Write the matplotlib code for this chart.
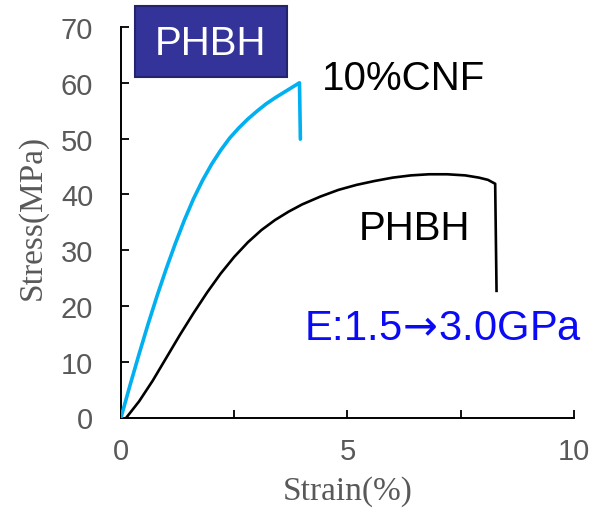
import matplotlib
matplotlib.use("Agg")
import matplotlib.pyplot as plt
from matplotlib.patches import Rectangle

plt.rcParams["mathtext.fontset"] = "dejavusans"

# Data
cnf_strain = [0.00, 0.20, 0.40, 0.60, 0.80, 1.00, 1.20, 1.40, 1.60, 1.80, 2.00, 2.20, 2.40,
              2.60, 2.80, 3.00, 3.20, 3.40, 3.60, 3.80, 3.94, 3.96]
cnf_stress = [0.0, 5.8, 11.4, 16.8, 21.9, 26.7, 31.2, 35.4, 39.2, 42.5, 45.4, 47.9, 50.1,
              51.9, 53.5, 54.9, 56.2, 57.3, 58.3, 59.3, 60.0, 49.9]

phbh_strain = [0.12, 0.40, 0.70, 1.00, 1.30, 1.60, 1.90, 2.20, 2.50, 2.80, 3.10, 3.40, 3.70,
               4.00, 4.40, 4.80, 5.20, 5.60, 6.00, 6.40, 6.80, 7.20, 7.60, 7.90, 8.10, 8.26, 8.29]
phbh_stress = [0.0, 2.9, 6.6, 10.7, 14.8, 18.7, 22.4, 25.8, 28.8, 31.4, 33.6, 35.4, 36.9,
               38.2, 39.6, 40.8, 41.7, 42.4, 43.0, 43.4, 43.6, 43.6, 43.4, 43.0, 42.6, 41.9, 22.7]

x_ticks = [0, 2.5, 5, 7.5, 10]
x_ticklabels = ["0", "", "5", "", "10"]
y_ticks = [0, 10, 20, 30, 40, 50, 60, 70]

W, H = 595, 510
fig = plt.figure(figsize=(W / 100, H / 100), dpi=100)
ax = fig.add_axes([121 / W, 1 - 418.5 / H, (574 - 121) / W, (418.5 - 28) / H])

ax.plot(phbh_strain, phbh_stress, color="black", lw=1.9, solid_joinstyle="round", zorder=3)
ax.plot(cnf_strain, cnf_stress, color="#00B0F0", lw=2.6, solid_joinstyle="round",
        solid_capstyle="round", zorder=4)

ax.set_xlim(0, 10)
ax.set_ylim(0, 70)
ax.set_xticks(x_ticks)
ax.set_xticklabels(x_ticklabels)
ax.set_yticks(y_ticks)

for s in ["top", "right"]:
    ax.spines[s].set_visible(False)
for s in ["left", "bottom"]:
    ax.spines[s].set_linewidth(1.4)
    ax.spines[s].set_color("black")

ax.tick_params(axis="both", direction="in", length=6, width=1.3, colors="black",
               labelcolor="#595959")
ax.tick_params(axis="x", pad=14)
ax.tick_params(axis="y", pad=20)
for lab in ax.get_xticklabels() + ax.get_yticklabels():
    lab.set_fontfamily(["Liberation Sans", "DejaVu Sans"])
    lab.set_fontsize(21)

label_font = dict(family=["Liberation Serif", "DejaVu Serif"], size=24, color="#595959")
ax.set_xlabel("Strain(%)", **label_font)
ax.set_ylabel("Stress(MPa)", **label_font)
ax.xaxis.set_label_coords((348 - 121) / 453, -(492 - 418.5) / 390.5)
ax.xaxis.label.set_va("center")
ax.yaxis.set_label_coords((32 - 121) / 453, (418.5 - 217) / 390.5)
ax.yaxis.label.set_va("center")

ann = ["Liberation Sans", "DejaVu Sans"]
ax.text(6.23, 58.9, "10%CNF", family=ann, size=29, color="black", ha="center", va="baseline")
ax.text(6.47, 32.0, "PHBH", family=ann, size=29, color="black", ha="center", va="baseline")
ax.text(7.11, 14.1, r"E:1.5$\!\rightarrow\!$3.0GPa", family=ann, size=30, color="#0a0af5",
        ha="center", va="baseline")

# Title box
fig.patches.append(Rectangle((135 / W, 1 - 78 / H), 152 / W, 71 / H, transform=fig.transFigure,
                             facecolor="#333399", edgecolor="#24246e", lw=1.5, zorder=5))
fig.text(211 / W, 1 - 55 / H, "PHBH", family=ann, size=29, color="white",
         ha="center", va="baseline", zorder=6)

fig.savefig("out.png", dpi=100)
